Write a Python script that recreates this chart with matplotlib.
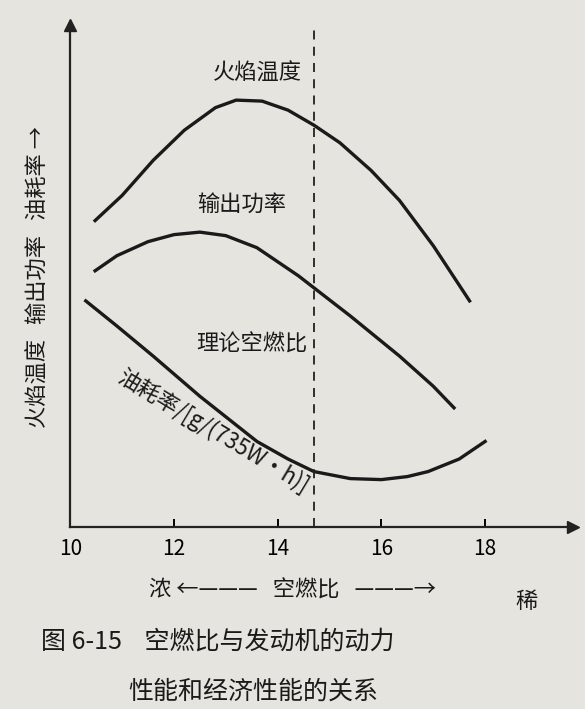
import matplotlib
matplotlib.use("Agg")
import matplotlib.pyplot as plt

plt.rcParams['font.family'] = ['Noto Sans CJK SC', 'DejaVu Sans']

flame_x = [10.48, 11.0, 11.6, 12.2, 12.8, 13.2, 13.7, 14.2, 14.7, 15.2, 15.8, 16.35, 17.0, 17.7]
flame_y = [61, 66, 73, 79, 83.5, 85, 84.8, 83, 80, 76.5, 71, 65, 56, 45]
power_x = [10.48, 10.9, 11.5, 12.0, 12.5, 13.0, 13.6, 14.4, 15.4, 16.35, 17.0, 17.4]
power_y = [51, 54, 56.8, 58.2, 58.7, 58, 55.6, 50, 42, 34, 28, 23.7]
fuel_x = [10.3, 10.9, 11.6, 12.5, 13.6, 14.2, 14.7, 15.4, 16.0, 16.5, 16.9, 17.5, 18.0]
fuel_y = [45, 40, 34, 26, 17, 13.5, 11, 9.6, 9.4, 10, 11, 13.5, 17]
xticks = [10, 12, 14, 16, 18]
stoich = 14.7

bg = '#e6e4df'
fig = plt.figure(figsize=(5.85, 7.09), dpi=100, facecolor=bg)
ax = fig.add_axes([0.12, 0.257, 0.86, 0.708], facecolor=bg)
ax.set_xlim(10, 19.7)
ax.set_ylim(0, 100)
for s in ['top', 'right']:
    ax.spines[s].set_visible(False)
for s in ['left', 'bottom']:
    ax.spines[s].set_linewidth(1.6)
    ax.spines[s].set_color('#222')
ax.plot(1, 0, '>', color='#222', transform=ax.transAxes, clip_on=False, ms=8)
ax.plot(0, 1, '^', color='#222', transform=ax.transAxes, clip_on=False, ms=8)

kw = dict(color='#1a1a1a', lw=2.4, solid_joinstyle='round')
ax.plot(flame_x, flame_y, **kw)
ax.plot(power_x, power_y, **kw)
ax.plot(fuel_x, fuel_y, **kw)
ax.axvline(stoich, color='#222', ls=(0, (5, 4)), lw=1.3)

ax.set_xticks(xticks)
ax.set_xticklabels([str(t) for t in xticks], fontsize=15)
ax.tick_params(axis='x', direction='in', length=6, width=1.4, pad=8)
ax.set_yticks([])

tk = dict(fontsize=16, color='#1a1a1a')
ax.text(13.6, 89, '火焰温度', ha='center', **tk)
ax.text(13.3, 63, '输出功率', ha='center', **tk)
ax.text(13.5, 35, '理论空燃比', ha='center', **tk)
ax.text(12.75, 19, '油耗率/[g/(735W·h)]', ha='center', va='center', rotation=-31, **tk)

fig.text(0.065, 0.61, '火焰温度   输出功率   油耗率 →', rotation=90, ha='center', va='center', **tk)
fig.text(0.50, 0.158, '浓 ←———   空燃比   ———→', ha='center', **tk)
fig.text(0.90, 0.142, '稀', ha='center', **tk)
fig.text(0.07, 0.085, '图 6-15    空燃比与发动机的动力', ha='left', fontsize=18, color='#1a1a1a')
fig.text(0.22, 0.015, '性能和经济性能的关系', ha='left', fontsize=18, color='#1a1a1a')

fig.savefig('out.png', dpi=100, facecolor=bg)
